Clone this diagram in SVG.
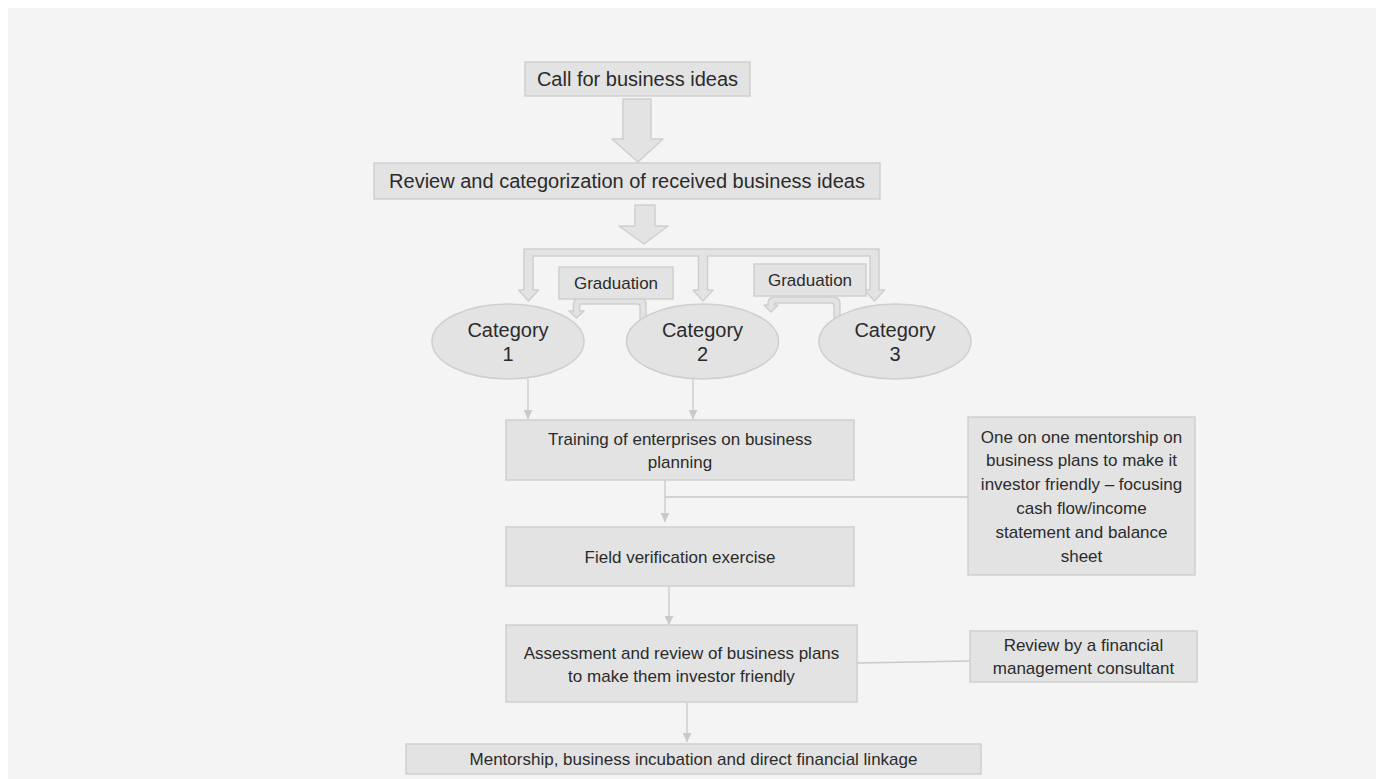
<svg xmlns="http://www.w3.org/2000/svg" width="1376" height="779" viewBox="0 0 1376 779">
<defs>
<style>
.box{fill:#e3e3e3;stroke:#cfcfcf;stroke-width:1.5}
.blk{fill:#e3e3e3;stroke:#cfcfcf;stroke-width:1.5;stroke-linejoin:round}
.t20{font-family:"Liberation Sans",Arial,sans-serif;font-size:20px;fill:#2b2b2b;text-anchor:middle}
.t17{font-family:"Liberation Sans",Arial,sans-serif;font-size:17px;fill:#2b2b2b;text-anchor:middle}
.ln{stroke:#c9c9c9;stroke-width:1.3;fill:none}
</style>
<marker id="ah" markerWidth="9" markerHeight="9" refX="9" refY="4.5" orient="auto" markerUnits="userSpaceOnUse">
<path d="M0,0 L9,4.5 L0,9 z" fill="#c9c9c9"/>
</marker>
</defs>
<rect x="0" y="0" width="1376" height="779" fill="#ffffff"/>
<rect x="8" y="8" width="1368" height="771" fill="#f3f4f3"/>

<g id="connectors">
<path class="blk" d="M623,99 H651 V139 H663 L638,162 L612,139 H623 Z"/>
<path class="blk" d="M635,205 H655 V226 H668 L644,244 L619,226 H635 Z"/>
<path class="blk" d="M524,249 H879 V290 H884.5 L874.5,301 L864.5,290 H870 V256 H707.5 V290 H713 L703,301 L693,290 H698.5 V256 H533 V290 H538.5 L528.5,301 L518.5,290 H524 Z"/>
<path class="blk" d="M646,322 V305 Q646,298 639,298 H580 Q573.5,298 573.5,304.5 V311 H569 L576.5,318 L584,311 H579.5 V306 Q579.5,304 581.5,304 H637 Q640,304 640,307 V322 Z"/>
<path class="blk" d="M840,318 V304 Q840,297 833,297 H775 Q768,297 768,303.5 V305 H764 L771,312 L778,305 H774 V305 Q774,303 776,303 H831 Q834,303 834,306 V318 Z"/>
<line class="ln" x1="528" y1="379" x2="528" y2="419" marker-end="url(#ah)"/>
<line class="ln" x1="693" y1="379" x2="693" y2="419" marker-end="url(#ah)"/>
<line class="ln" x1="665" y1="480" x2="665" y2="522" marker-end="url(#ah)"/>
<line class="ln" x1="665" y1="497" x2="968" y2="497"/>
<line class="ln" x1="669" y1="586" x2="669" y2="625" marker-end="url(#ah)"/>
<line class="ln" x1="857" y1="663" x2="970" y2="661"/>
<line class="ln" x1="687" y1="702" x2="687" y2="742" marker-end="url(#ah)"/>
</g>

<g id="call">
<rect class="box" x="525" y="62" width="225" height="34"/>
<text class="t20" x="637.5" y="86">Call for business ideas</text>
</g>
<g id="review">
<rect class="box" x="374" y="163" width="506" height="36"/>
<text class="t20" x="627" y="188">Review and categorization of received business ideas</text>
</g>
<g id="graduation1">
<rect class="box" x="559" y="267" width="114" height="32"/>
<text class="t17" x="616" y="289">Graduation</text>
</g>
<g id="graduation2">
<rect class="box" x="754" y="264" width="112" height="32"/>
<text class="t17" x="810" y="286">Graduation</text>
</g>
<g id="category1">
<ellipse class="box" cx="508" cy="341.5" rx="76" ry="37.5"/>
<text class="t20" x="508" y="337">Category</text>
<text class="t20" x="508" y="361">1</text>
</g>
<g id="category2">
<ellipse class="box" cx="702.5" cy="341.5" rx="76" ry="37.5"/>
<text class="t20" x="702.5" y="337">Category</text>
<text class="t20" x="702.5" y="361">2</text>
</g>
<g id="category3">
<ellipse class="box" cx="895" cy="341.5" rx="76" ry="37.5"/>
<text class="t20" x="895" y="337">Category</text>
<text class="t20" x="895" y="361">3</text>
</g>
<g id="training">
<rect class="box" x="506" y="420" width="348" height="60"/>
<text class="t17" x="680" y="445">Training of enterprises on business</text>
<text class="t17" x="680" y="468">planning</text>
</g>
<g id="mentorship">
<rect class="box" x="968" y="417" width="227" height="158"/>
<text class="t17" x="1081.5" y="442.5">One on one mentorship on</text>
<text class="t17" x="1081.5" y="466.3">business plans to make it</text>
<text class="t17" x="1081.5" y="490.1">investor friendly – focusing</text>
<text class="t17" x="1081.5" y="513.9">cash flow/income</text>
<text class="t17" x="1081.5" y="537.7">statement and balance</text>
<text class="t17" x="1081.5" y="561.5">sheet</text>
</g>
<g id="field">
<rect class="box" x="506" y="527" width="348" height="59"/>
<text class="t17" x="680" y="562.5">Field verification exercise</text>
</g>
<g id="assessment">
<rect class="box" x="506" y="625" width="351" height="77"/>
<text class="t17" x="681.5" y="658.5">Assessment and review of business plans</text>
<text class="t17" x="681.5" y="682">to make them investor friendly</text>
</g>
<g id="reviewby">
<rect class="box" x="970" y="631" width="227" height="51"/>
<text class="t17" x="1083.5" y="650.5">Review by a financial</text>
<text class="t17" x="1083.5" y="674">management consultant</text>
</g>
<g id="final">
<rect class="box" x="406" y="744" width="575" height="30"/>
<text class="t17" x="693.5" y="765">Mentorship, business incubation and direct financial linkage</text>
</g>
</svg>
